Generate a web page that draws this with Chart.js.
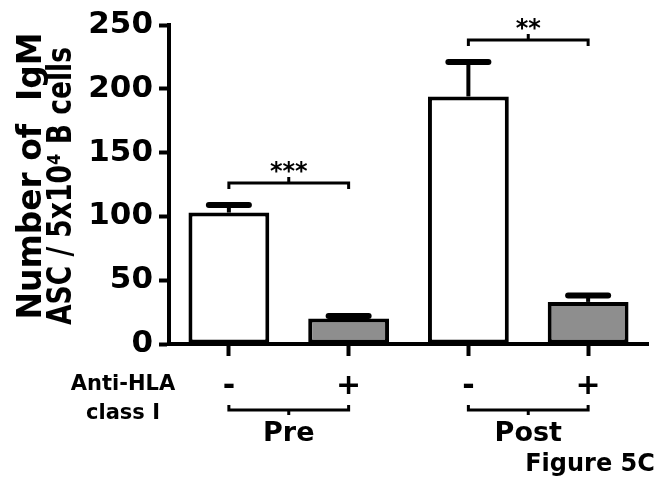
<!DOCTYPE html>
<html>
<head>
<meta charset="utf-8">
<script src="https://cdn.jsdelivr.net/npm/chart.js@4.4.0/dist/chart.umd.min.js"></script>
<style>
  html, body { margin: 0; padding: 0; background: #fff; }
</style>
</head>
<body>
<canvas id="chart" width="664" height="502"></canvas>
<script>
// data
const treatment = ['-', '+', '-', '+'];
const groups = ['Pre', 'Post'];
const meanASC = [103, 20, 194, 33];
const semASC = [6, 2, 27, 5];
const sigLabels = ['***', '**'];
const yTicks = [0, 50, 100, 150, 200, 250];
const yTitle = ['Number of  IgM', 'ASC / 5x10\u2074 B cells'];

const FONT = 'DejaVu Sans';

function bracket(ctx, x1, x2, y, h) {
    // horizontal line, ends go to y+h, middle tick goes to y-h
    const xm = (x1 + x2) / 2;
    ctx.beginPath();
    ctx.moveTo(x1, y + h);
    ctx.lineTo(x1, y);
    ctx.lineTo(x2, y);
    ctx.lineTo(x2, y + h);
    ctx.moveTo(xm, y);
    ctx.lineTo(xm, y - h);
    ctx.stroke();
}

// rotated text squeezed to a given length
function sideText(ctx, text, cx, cy, len) {
    ctx.save();
    ctx.translate(cx, cy);
    ctx.rotate(-Math.PI / 2);
    const w = ctx.measureText(text).width;
    ctx.scale(len / w, 1);
    ctx.fillText(text, 0, 0);
    ctx.restore();
}

const extras = {
    id: 'extras',
    afterDatasetsDraw(chart) {
        const ctx = chart.ctx;
        const y = chart.scales.y;
        const bars = chart.getDatasetMeta(0).data;
        ctx.save();
        ctx.strokeStyle = '#000';
        // error bars (mean + SEM)
        bars.forEach((bar, i) => {
            const top = y.getPixelForValue(meanASC[i] + semASC[i]);
            ctx.lineWidth = 4;
            ctx.lineCap = 'butt';
            ctx.beginPath();
            ctx.moveTo(bar.x, bar.y);
            ctx.lineTo(bar.x, top);
            ctx.stroke();
            ctx.lineWidth = 6;
            ctx.lineCap = 'round';
            ctx.beginPath();
            ctx.moveTo(bar.x - 20, top);
            ctx.lineTo(bar.x + 20, top);
            ctx.stroke();
        });
        ctx.restore();
    },
    afterDraw(chart) {
        const ctx = chart.ctx;
        const x = chart.scales.x;
        const y = chart.scales.y;
        ctx.save();
        ctx.strokeStyle = '#000';
        ctx.fillStyle = '#000';
        ctx.lineWidth = 3;
        ctx.lineCap = 'butt';
        ctx.textAlign = 'center';

        groups.forEach((g, k) => {
            const x1 = x.getPixelForValue(2 * k);
            const x2 = x.getPixelForValue(2 * k + 1);
            // significance bracket above the pair
            const top = Math.min(
                y.getPixelForValue(meanASC[2 * k] + semASC[2 * k]),
                y.getPixelForValue(meanASC[2 * k + 1] + semASC[2 * k + 1])
            );
            const by = top - 22;
            bracket(ctx, x1, x2, by, 6);
            ctx.font = 'bold 24px ' + FONT;
            ctx.textBaseline = 'alphabetic';
            ctx.fillText(sigLabels[k], (x1 + x2) / 2, by - 4);

            // group bracket below the axis
            bracket(ctx, x1, x2, 410, -5);
            ctx.font = 'bold 27px ' + FONT;
            ctx.textBaseline = 'middle';
            ctx.fillText(g, (x1 + x2) / 2, 434);
        });

        ctx.font = 'bold 21px ' + FONT;
        ctx.textBaseline = 'middle';
        ctx.fillText('Anti-HLA', 123, 385);
        ctx.fillText('class I', 123, 414);

        ctx.font = 'bold 24px ' + FONT;
        ctx.fillText('Figure 5C', 590, 465);

        // y axis title, two lines
        ctx.font = 'bold 33px ' + FONT;
        sideText(ctx, yTitle[0], 32, 176, 287);
        sideText(ctx, yTitle[1], 62, 186, 278);
        ctx.restore();
    }
};

new Chart(document.getElementById('chart'), {
    type: 'bar',
    data: {
        labels: treatment,
        datasets: [{
            data: meanASC,
            backgroundColor: treatment.map(t => t === '+' ? '#8e8e8e' : '#ffffff'),
            borderColor: '#000',
            borderWidth: 4,
            borderSkipped: false,
            barPercentage: 0.675,
            categoryPercentage: 1
        }]
    },
    options: {
        responsive: false,
        animation: false,
        layout: { padding: { top: 25, right: 16, bottom: 108, left: 0 } },
        plugins: {
            legend: { display: false },
            tooltip: { enabled: false }
        },
        scales: {
            x: {
                grid: {
                    offset: false,
                    drawOnChartArea: false,
                    tickLength: 12,
                    tickWidth: 4,
                    tickColor: '#000'
                },
                border: { color: '#000', width: 4 },
                ticks: {
                    color: '#000',
                    padding: 13,
                    font: { family: FONT, size: 30, weight: 'bold' }
                },
                afterFit(s) { s.height = 50; }
            },
            y: {
                min: 0,
                max: 250,
                afterBuildTicks(s) { s.ticks = yTicks.map(v => ({ value: v })); },
                grid: {
                    drawOnChartArea: false,
                    tickLength: 10,
                    tickWidth: 4,
                    tickColor: '#000'
                },
                border: { color: '#000', width: 4 },
                ticks: {
                    color: '#000',
                    padding: 6,
                    font: { family: FONT, size: 31, weight: 'bold' }
                },
                afterFit(s) { s.width = 169; }
            }
        }
    },
    plugins: [extras]
});
</script>
</body>
</html>
